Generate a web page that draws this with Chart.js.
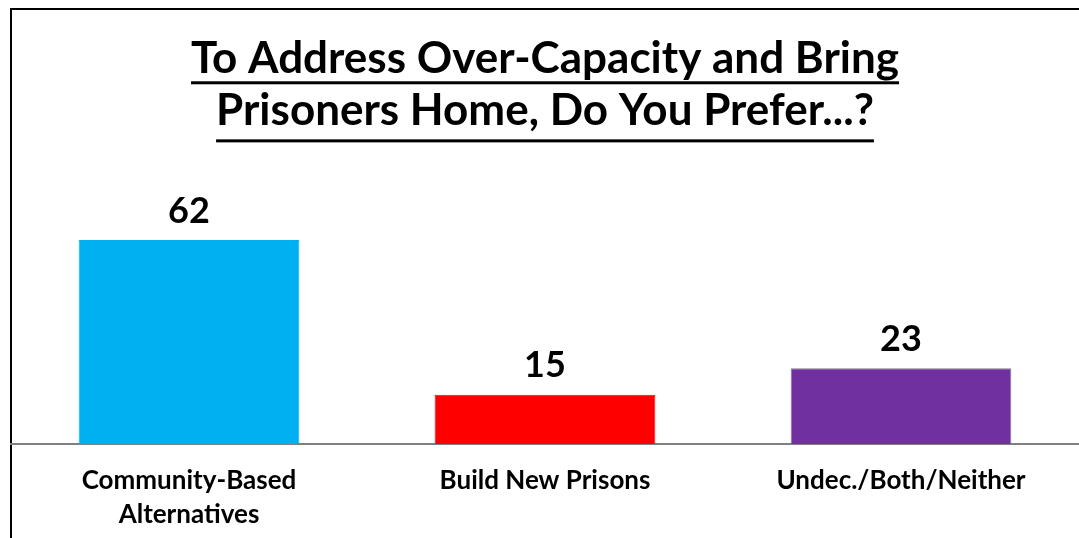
<!DOCTYPE html>
<html>
<head>
<meta charset="utf-8">
<script src="https://cdn.jsdelivr.net/npm/chart.js@4/dist/chart.umd.min.js"></script>
<style>
  html, body { margin: 0; padding: 0; background: #fff; }
  #wrap { width: 1079px; height: 538px; }
</style>
</head>
<body>
<div id="wrap"><canvas id="myChart"></canvas></div>
<script>
/* -----------data------------- */
const categories = [['Community-Based', 'Alternatives'], 'Build New Prisons', 'Undec./Both/Neither'];
const values = [62, 15, 23];
const barColors = ['#00B0F0', '#FF0000', '#7030A0'];
const barBorders = ['#00B0F0', '#FF0000', '#7F7F7F'];
const titleLines = ['To Address Over-Capacity and Bring', 'Prisoners Home, Do You Prefer...?'];

const FONT = "Lato, 'Open Sans', sans-serif";

/* -----------frame + underline + value labels------------- */
const decor = {
  id: 'decor',
  beforeDraw(chart) {
    const ctx = chart.ctx;
    ctx.save();
    ctx.fillStyle = '#fff';
    ctx.fillRect(0, 0, chart.width, chart.height);
    ctx.strokeStyle = '#000';
    ctx.lineWidth = 2;
    ctx.strokeRect(11, 9, chart.width + 20, chart.height + 20);
    ctx.restore();
  },
  afterDraw(chart) {
    const ctx = chart.ctx;
    const t = chart.titleBlock;
    const opts = chart.options.plugins.title;
    const size = opts.font.size;
    const lh = size * opts.font.lineHeight;
    const gaps = [0.52, 0.64]; // underline offset below line middle, in em
    ctx.save();
    ctx.font = 'bold ' + size + 'px ' + FONT;
    ctx.fillStyle = '#000';
    const cx = (t.left + t.right) / 2;
    titleLines.forEach((line, i) => {
      const y = t.top + opts.padding.top + lh / 2 + i * lh + size * gaps[i];
      const w = ctx.measureText(line).width;
      ctx.fillRect(cx - w / 2, y, w, 3);
    });
    // value labels
    ctx.font = 'bold 36px ' + FONT;
    ctx.textAlign = 'center';
    ctx.textBaseline = 'bottom';
    chart.getDatasetMeta(0).data.forEach((bar, i) => {
      ctx.fillText(values[i], bar.x, bar.y - 11);
    });
    ctx.restore();
  }
};

/* -----------chart------------- */
const ctx = document.getElementById('myChart').getContext('2d');
const myChart = new Chart(ctx, {
  type: 'bar',
  data: {
    labels: categories,
    datasets: [{
      data: values,
      backgroundColor: barColors,
      borderColor: barBorders,
      borderWidth: 1,
      categoryPercentage: 1,
      barPercentage: 0.62
    }]
  },
  options: {
    responsive: true,
    maintainAspectRatio: false,
    animation: false,
    layout: { padding: { left: 11, right: 0, top: 10, bottom: 0 } },
    plugins: {
      legend: { display: false },
      tooltip: { enabled: false },
      title: {
        display: true,
        text: titleLines,
        color: '#000',
        font: { family: FONT, size: 44, weight: 'bold', lineHeight: 1.2 },
        padding: { top: 22, bottom: 76 }
      }
    },
    scales: {
      x: {
        grid: { display: false, drawTicks: false },
        border: { display: true, color: '#808080', width: 2 },
        ticks: {
          color: '#000',
          padding: 20,
          font: { family: FONT, size: 26, weight: 'bold', lineHeight: 1.3 }
        },
        afterFit(scale) { scale.height = 94; }
      },
      y: {
        display: false,
        min: 0,
        max: 70
      }
    }
  },
  plugins: [decor]
});
</script>
</body>
</html>
